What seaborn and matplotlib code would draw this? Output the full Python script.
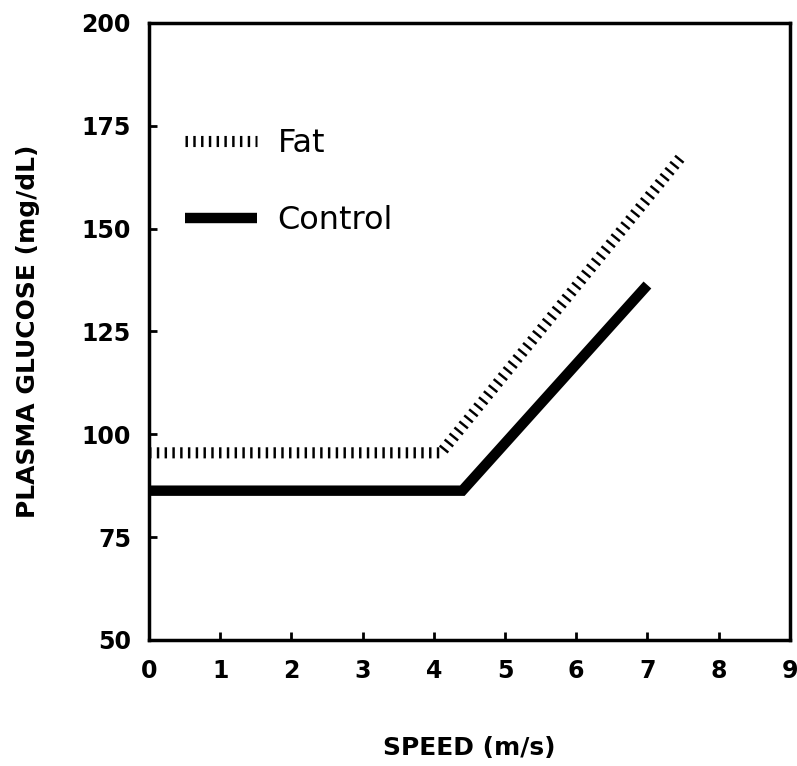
import matplotlib
matplotlib.use('Agg')
import matplotlib.pyplot as plt
import seaborn as sns
import pandas as pd

# values
fat_speed = [0, 4.1, 7.5]
fat_glucose = [95.5, 95.5, 168]
control_speed = [0, 4.4, 7.0]
control_glucose = [86.3, 86.3, 136.3]

x_ticks = [0, 1, 2, 3, 4, 5, 6, 7, 8, 9]
y_ticks = [50, 75, 100, 125, 150, 175, 200]

fat_df = pd.DataFrame({'speed': fat_speed, 'glucose': fat_glucose})
control_df = pd.DataFrame({'speed': control_speed, 'glucose': control_glucose})

sns.set_style('white')
plt.rcParams['font.family'] = ['DejaVu Sans']
plt.rcParams['text.color'] = 'black'
plt.rcParams['axes.labelcolor'] = 'black'

fig = plt.figure(figsize=(7.97, 7.66), dpi=100)
ax = fig.add_axes([0.187, 0.1645, 0.804, 0.8055])

# fat: thick line broken into short strokes -> hatched look
sns.lineplot(data=fat_df, x='speed', y='glucose', ax=ax, color='black',
             linewidth=8, label='Fat', dash_capstyle='butt',
             linestyle=(0, (0.22, 0.48)))
sns.lineplot(data=control_df, x='speed', y='glucose', ax=ax, color='black',
             linewidth=7.5, label='Control', solid_capstyle='butt',
             solid_joinstyle='miter')

ax.set_xlim(0, 9)
ax.set_ylim(50, 200)
ax.set_xticks(x_ticks)
ax.set_yticks(y_ticks)
ax.tick_params(direction='in', length=6, width=2, labelsize=17,
               bottom=True, left=True, color='black', labelcolor='black')
ax.tick_params(axis='x', pad=14)
ax.tick_params(axis='y', pad=13)
for lab in ax.get_xticklabels() + ax.get_yticklabels():
    lab.set_fontweight('bold')
for s in ax.spines.values():
    s.set_linewidth(2.5)
    s.set_color('black')

ax.set_xlabel('SPEED (m/s)', fontsize=18, fontweight='bold', labelpad=38)
ax.set_ylabel('PLASMA GLUCOSE (mg/dL)', fontsize=18, fontweight='bold', labelpad=30)

leg = ax.legend(loc='upper left', bbox_to_anchor=(0.056, 0.83), frameon=False,
                fontsize=23, handlelength=2.25, handletextpad=0.65,
                labelspacing=1.45, borderpad=0, borderaxespad=0)

fig.savefig('out.png', dpi=100)
